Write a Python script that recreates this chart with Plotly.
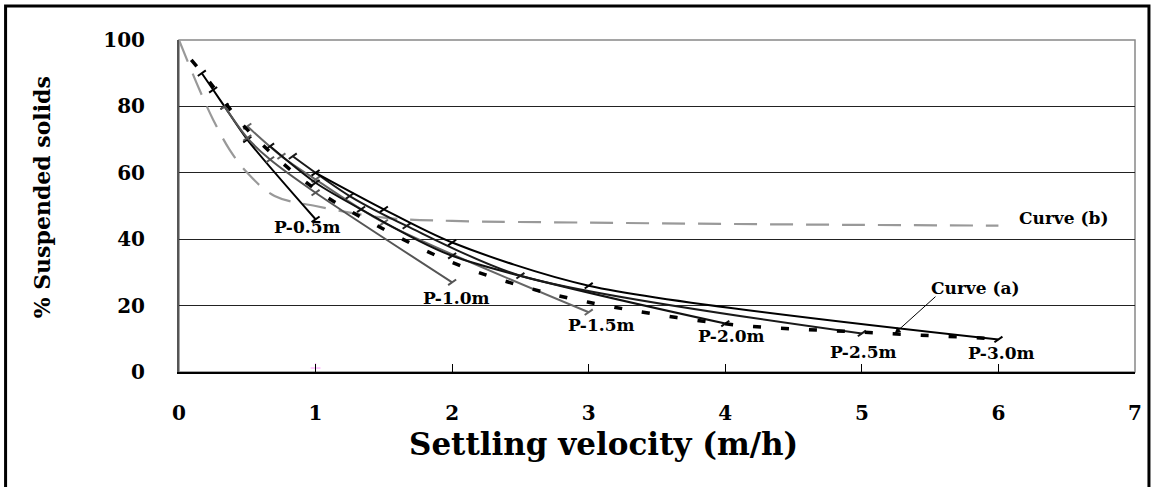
import plotly.graph_objects as go

# ---- data ----
p05_x = [0.167, 0.25, 0.333, 0.5, 1.0]
p05_y = [90, 85, 80, 70, 46]
p10_x = [0.333, 0.5, 0.667, 1.0, 2.0]
p10_y = [80, 70.5, 64, 54, 27]
p15_x = [0.5, 0.75, 1.0, 1.5, 3.0]
p15_y = [74, 65, 58, 45, 18]
p20_x = [0.667, 1.0, 1.333, 2.0, 4.0]
p20_y = [68, 57, 49, 35, 14.6]
p25_x = [0.833, 1.25, 1.667, 2.5, 5.0]
p25_y = [65, 53, 44, 29, 11.6]
p30_x = [1.0, 1.5, 2.0, 3.0, 6.0]
p30_y = [60, 49, 39, 26, 9.8]
curve_a_x = [0.09, 0.25, 0.5, 1.0, 1.5, 2.0, 2.5, 3.0, 4.0, 5.0, 6.0]
curve_a_y = [94, 86, 73, 55, 43, 33, 26, 21, 14.5, 12, 10]
curve_b_x = [0, 0.15, 0.25, 0.37, 0.5, 0.7, 1.0, 1.5, 2, 3, 4, 5, 6]
curve_b_y = [100, 85, 76, 67, 60, 53, 50, 46.5, 45.5, 45, 44.6, 44.3, 44.1]
stray_x = [1.0]
stray_y = [1.2]

labels = ["P-0.5m", "P-1.0m", "P-1.5m", "P-2.0m", "P-2.5m", "P-3.0m"]
label_x = [0.935, 2.03, 3.09, 4.04, 5.01, 6.02]
label_y = [43.8, 22.2, 14.1, 10.8, 6.1, 5.7]

FONT = "DejaVu Serif"

fig = go.Figure()

series = [
    (p05_x, p05_y, "#000000"),
    (p10_x, p10_y, "#555555"),
    (p15_x, p15_y, "#666666"),
    (p20_x, p20_y, "#111111"),
    (p25_x, p25_y, "#1a1a1a"),
    (p30_x, p30_y, "#000000"),
]

fig.add_trace(go.Scatter(x=curve_b_x, y=curve_b_y, mode="lines",
                         line=dict(color="#999999", width=2.2, dash="23px,13px", shape="spline"),
                         showlegend=False, hoverinfo="skip"))

for (xs, ys, c), name in zip(series, labels):
    fig.add_trace(go.Scatter(x=xs, y=ys, mode="lines+markers", name=name,
                             line=dict(color=c, width=2, shape="spline", smoothing=0.8),
                             marker=dict(symbol="line-ew-open", size=7, angle=-35,
                                         line=dict(color=c, width=2)),
                             showlegend=False))

fig.add_trace(go.Scatter(x=curve_a_x, y=curve_a_y, mode="lines",
                         line=dict(color="#000000", width=3.5, dash="8px,20px", shape="spline"),
                         showlegend=False, hoverinfo="skip"))

fig.add_trace(go.Scatter(x=stray_x, y=stray_y, mode="markers",
                         marker=dict(symbol="cross-thin-open", size=7, line=dict(color="#555", width=1)),
                         showlegend=False))

for t, x, y in zip(labels, label_x, label_y):
    fig.add_annotation(x=x, y=y, text=t, showarrow=False, xanchor="center", yanchor="middle",
                       font=dict(family=FONT, size=17, color="black", weight="bold"))

fig.add_annotation(x=5.83, y=25.4, text="Curve (a)", showarrow=False,
                   xanchor="center", yanchor="middle",
                   font=dict(family=FONT, size=17, color="black", weight="bold"))
fig.add_annotation(x=5.24, y=11.6, ax=5.55, ay=23.1, axref="x", ayref="y",
                   text="", showarrow=True, arrowhead=2, arrowsize=1.2,
                   arrowwidth=1, arrowcolor="black")
fig.add_annotation(x=6.48, y=46.4, text="Curve (b)", showarrow=False,
                   xanchor="center", yanchor="middle",
                   font=dict(family=FONT, size=17, color="black", weight="bold"))

# axis titles
fig.add_annotation(xref="paper", yref="paper", x=0.444, y=-0.217,
                   xanchor="center", yanchor="middle",
                   text="Settling velocity (m/h)", showarrow=False,
                   font=dict(family=FONT, size=31, color="black", weight="bold"))
fig.add_annotation(xref="paper", yref="paper", x=-0.143, y=0.527,
                   xanchor="center", yanchor="middle",
                   text="% Suspended solids", showarrow=False, textangle=-90,
                   font=dict(family=FONT, size=22, color="black", weight="bold"))

# plot border (gray) and outer frame
fig.add_shape(type="rect", xref="paper", yref="paper", x0=0, y0=0, x1=1, y1=1,
              line=dict(color="#888888", width=1.5), layer="below")
fig.add_shape(type="rect", xref="paper", yref="paper",
              x0=-0.1814, x1=1.0146, y0=-0.36, y1=1.1024,
              line=dict(color="black", width=3))

fig.update_xaxes(range=[0, 7], dtick=1, tick0=0, showgrid=False,
                 ticks="inside", ticklen=8, tickcolor="black", tickwidth=1,
                 showline=True, linecolor="black", linewidth=2,
                 ticklabelstandoff=22, zeroline=False,
                 tickfont=dict(family=FONT, size=20, color="black", weight="bold"))
fig.update_yaxes(range=[0, 100], dtick=20, tick0=0, showgrid=True,
                 gridcolor="#222222", gridwidth=1,
                 ticks="", showline=True, linecolor="#555555", linewidth=2,
                 ticklabelstandoff=28, zeroline=False,
                 tickfont=dict(family=FONT, size=20, color="black", weight="bold"))

fig.update_layout(width=1154, height=487,
                  margin=dict(l=179, r=16, t=40, b=115),
                  paper_bgcolor="white", plot_bgcolor="white",
                  showlegend=False)

# remove the default page margin so the figure sits at the window's corner
fig.write_html("out.html", config={"displayModeBar": False},
               post_script="document.body.style.margin='0';document.body.style.overflow='hidden';")
